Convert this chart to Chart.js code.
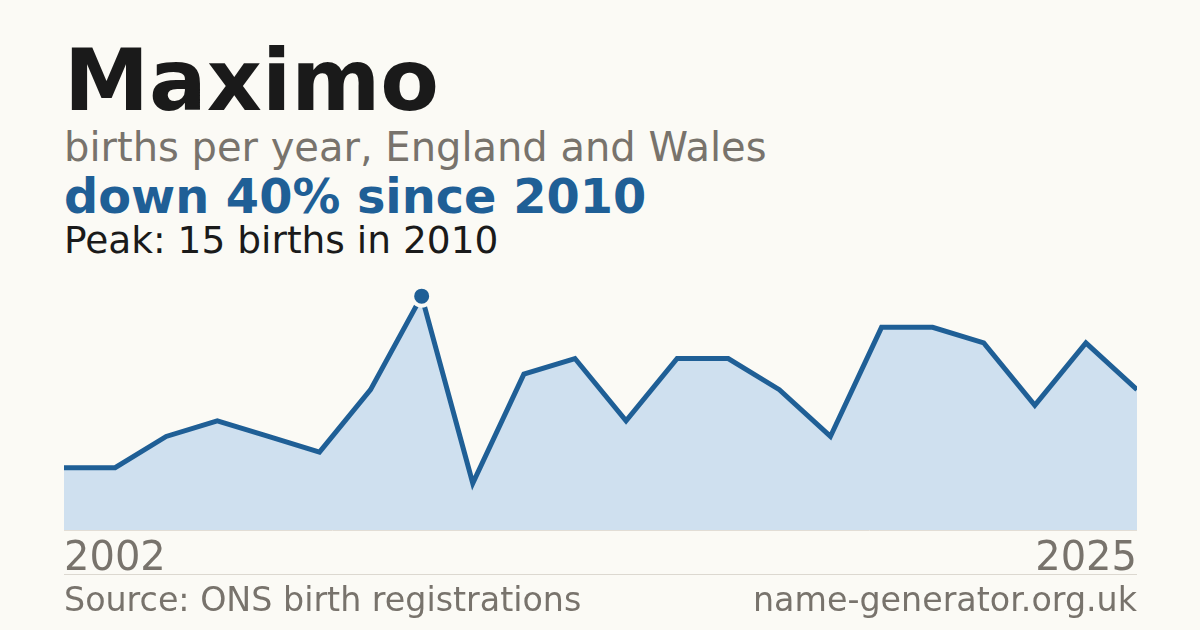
<!DOCTYPE html>
<html lang="en">
<head>
<meta charset="UTF-8">
<title>Maximo births per year</title>
<script src="https://cdn.jsdelivr.net/npm/chart.js"></script>
<style>
  html, body { margin: 0; padding: 0; }
  body { width: 1200px; height: 630px; background: #fbfaf5; font-family: "DejaVu Sans", sans-serif; position: relative; overflow: hidden; }
  .txt { position: absolute; left: 64px; margin: 0; white-space: nowrap; line-height: 1; }
  #title { top: 38px; font-size: 85.5px; font-weight: bold; color: #1a1a1a; }
  #sub { top: 127px; font-size: 40px; color: #78736c; }
  #headline { top: 173px; font-size: 47.8px; font-weight: bold; color: #1f5f96; }
  #peak { top: 222px; font-size: 37.5px; color: #1a1a1a; }
  #chartBox { position: absolute; left: 64px; top: 279px; width: 1073px; height: 305px; }
  #rule { position: absolute; left: 64px; top: 574px; width: 1073px; height: 1px; background: #dcd8d0; }
  .foot { position: absolute; top: 583px; font-size: 33.3px; color: #78736c; line-height: 1; white-space: nowrap; }
  #src { left: 64px; }
  #site { right: 63px; }
</style>
</head>
<body>
  <p class="txt" id="title">Maximo</p>
  <p class="txt" id="sub">births per year, England and Wales</p>
  <p class="txt" id="headline">down 40% since 2010</p>
  <p class="txt" id="peak">Peak: 15 births in 2010</p>
  <div id="chartBox"><canvas id="births"></canvas></div>
  <div id="rule"></div>
  <div class="foot" id="src">Source: ONS birth registrations</div>
  <div class="foot" id="site">name-generator.org.uk</div>

<script>
  // years with a published count (two years have none)
  const years = ['2002', '2003', '2005', '2006', '2007', '2008', '2009', '2010', '2011', '2012', '2013',
                 '2014', '2015', '2016', '2017', '2018', '2020', '2021', '2022', '2023', '2024', '2025'];
  const births = [4, 4, 6, 7, 6, 5, 9, 15, 3, 10, 11, 7, 11, 11, 9, 6, 13, 13, 12, 8, 12, 9];
  const peakYear = '2010';

  const blue = '#1f5f96';
  const peakIdx = years.indexOf(peakYear);

  new Chart(document.getElementById('births'), {
    type: 'line',
    data: {
      labels: years,
      datasets: [{
        data: births,
        borderColor: blue,
        borderWidth: 5,
        backgroundColor: '#cfe0ef',
        fill: 'origin',
        tension: 0,
        pointRadius: births.map((v, i) => i === peakIdx ? 9.5 : 0),
        pointBackgroundColor: blue,
        pointBorderColor: '#fbfaf5',
        pointBorderWidth: 4,
        pointHoverRadius: 0
      }]
    },
    options: {
      responsive: true,
      maintainAspectRatio: false,
      animation: false,
      layout: { padding: 0, autoPadding: false },
      plugins: { legend: { display: false }, tooltip: { enabled: false } },
      scales: {
        x: {
          offset: false,
          grid: { display: false, drawTicks: true, tickLength: 6 },
          border: { display: true, color: '#e2ddd5', width: 1 },
          ticks: {
            autoSkip: false,
            maxRotation: 0,
            align: 'inner',
            padding: 0,
            color: '#78736c',
            font: { family: 'DejaVu Sans', size: 40 },
            callback: function (val, i) {
              return (i === 0 || i === years.length - 1) ? years[i] : '';
            }
          }
        },
        y: {
          display: false,
          min: 0,
          max: 16.1
        }
      }
    }
  });
</script>
</body>
</html>
